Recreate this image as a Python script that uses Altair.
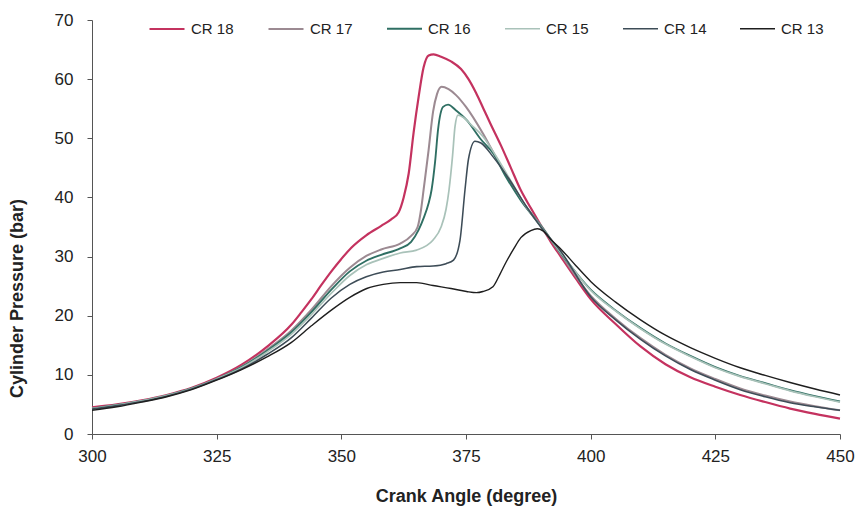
import altair as alt
import pandas as pd

series_names = ["CR 18", "CR 17", "CR 16", "CR 15", "CR 14", "CR 13"]
series_colors = ["#c4325f", "#9c8a92", "#2f6f63", "#a9c2b9", "#3d4c57", "#1e1e1e"]
series_widths = [2.2, 1.4, 2.2, 1.3, 1.8, 2.2]

cr18_angle = [300, 305, 310, 315, 320, 325, 330, 335, 340, 342, 344, 346, 348, 350, 352, 355, 358, 360, 361.5, 362.5, 363.5, 364.5, 365.5, 366.5, 367.5, 368.5, 370, 372, 374, 375.5, 377, 378.5, 380, 382, 384, 386, 388, 390, 392, 394, 397, 400, 405, 410, 415, 420, 425, 430, 435, 440, 445, 450]
cr18_p = [4.5, 5.0, 5.7, 6.6, 7.8, 9.5, 11.7, 14.7, 18.5, 20.6, 22.8, 25.2, 27.5, 29.6, 31.5, 33.6, 35.2, 36.3, 37.5, 40.0, 44.0, 51.0, 57.0, 62.0, 64.0, 64.2, 63.8, 63.0, 61.7, 60.0, 57.7, 55.0, 52.3, 48.8, 45.0, 41.2, 38.2, 35.3, 32.5, 30.0, 26.3, 22.8, 18.6, 14.8, 11.8, 9.6, 8.0, 6.6, 5.4, 4.3, 3.4, 2.6]

cr17_angle = [300, 305, 310, 315, 320, 325, 330, 335, 340, 344, 348, 351.7, 355, 358, 361.8, 364, 365.3, 366, 366.5, 367.5, 368.4, 369.2, 370.1, 371.5, 373, 375, 378.4, 381, 384, 387, 390, 394, 400, 405, 410, 415, 420, 425, 430, 435, 440, 445, 450]
cr17_p = [4.3, 4.9, 5.6, 6.5, 7.7, 9.3, 11.4, 14.2, 17.5, 21.0, 25.0, 28.1, 30.1, 31.2, 32.2, 33.5, 35.0, 38.0, 41.3, 48.0, 54.5, 57.5, 58.7, 58.3, 57.3, 55.3, 50.8, 46.8, 42.5, 38.5, 35.3, 30.4, 23.4, 19.5, 16.2, 13.4, 11.1, 9.3, 7.7, 6.5, 5.5, 4.7, 4.0]

cr16_angle = [300, 305, 310, 315, 320, 325, 330, 335, 340, 344, 348, 351.7, 355, 358, 361.8, 364, 365.5, 366.5, 367.5, 368.1, 368.8, 369.4, 370.4, 371.4, 373, 375.1, 378, 380.4, 383, 386, 390, 394, 400, 405, 410, 415, 420, 425, 430, 435, 440, 445, 450]
cr16_p = [4.3, 4.9, 5.6, 6.5, 7.7, 9.3, 11.3, 14.0, 17.2, 20.6, 24.4, 27.5, 29.3, 30.3, 31.4, 32.5, 34.5, 36.5, 39.0, 41.3, 46.0, 51.5, 55.3, 55.7, 54.7, 53.1, 49.8, 47.5, 43.5, 39.5, 35.2, 30.6, 24.4, 20.9, 17.9, 15.3, 13.2, 11.3, 9.8, 8.6, 7.4, 6.4, 5.5]

cr15_angle = [300, 305, 310, 315, 320, 325, 330, 335, 340, 344, 348, 351.7, 355, 358.4, 361.8, 365.1, 368.4, 370, 371, 371.6, 372.3, 372.8, 373.4, 374.5, 376, 378.4, 381, 384, 387, 390, 394, 400, 405, 410, 415, 420, 425, 430, 435, 440, 445, 450]
cr15_p = [4.3, 4.9, 5.6, 6.5, 7.7, 9.3, 11.2, 13.8, 16.9, 20.2, 23.8, 26.8, 28.6, 29.7, 30.6, 31.1, 32.8, 35.0, 38.0, 41.3, 47.0, 52.0, 53.9, 53.5, 52.3, 50.3, 47.0, 42.8, 38.5, 35.1, 30.7, 24.3, 20.8, 17.8, 15.2, 13.1, 11.2, 9.7, 8.5, 7.3, 6.3, 5.4]

cr14_angle = [300, 305, 310, 315, 320, 325, 330, 335, 340, 344, 348, 351.7, 355, 358.4, 361.8, 365.1, 368.4, 371, 372.5, 373.8, 374.8, 375.5, 376.8, 378, 380.4, 383.8, 387, 390, 394, 400, 405, 410, 415, 420, 425, 430, 435, 440, 445, 450]
cr14_p = [4.2, 4.8, 5.5, 6.4, 7.6, 9.2, 11.0, 13.4, 16.3, 19.6, 23.0, 25.3, 26.6, 27.4, 27.8, 28.3, 28.4, 28.8, 29.4, 32.8, 41.3, 46.5, 49.5, 49.2, 46.9, 42.9, 38.6, 35.0, 30.9, 23.2, 19.3, 16.0, 13.2, 10.9, 9.1, 7.5, 6.3, 5.3, 4.6, 4.0]

cr13_angle = [300, 305, 310, 315, 320, 325, 330, 335, 340, 344, 348.4, 351.7, 355.1, 358.4, 361.8, 365.1, 368.4, 372, 375.1, 377.1, 378.4, 380.4, 381.8, 383, 384.5, 386, 388, 389.3, 390.5, 392, 394, 397, 400, 405, 410, 415, 420, 425, 430, 435, 440, 445, 450]
cr13_p = [4.0, 4.6, 5.4, 6.3, 7.5, 9.1, 10.9, 13.0, 15.5, 18.3, 21.2, 23.1, 24.6, 25.3, 25.6, 25.6, 25.1, 24.6, 24.1, 23.9, 24.1, 24.9, 27.0, 29.0, 31.2, 33.2, 34.4, 34.7, 34.3, 32.9, 31.3, 28.5, 25.8, 22.3, 19.3, 16.7, 14.6, 12.8, 11.2, 9.9, 8.7, 7.6, 6.6]

all_angles = [cr18_angle, cr17_angle, cr16_angle, cr15_angle, cr14_angle, cr13_angle]
all_p = [cr18_p, cr17_p, cr16_p, cr15_p, cr14_p, cr13_p]

rows = []
for name, angs, ps in zip(series_names, all_angles, all_p):
    for a, p in zip(angs, ps):
        rows.append({"series": name, "angle": a, "pressure": p})
df = pd.DataFrame(rows)

FONT = "Liberation Sans"

chart = alt.Chart(df).mark_line(interpolate="monotone").encode(
    x=alt.X("angle:Q",
            scale=alt.Scale(domain=[300, 450], nice=False, zero=False),
            axis=alt.Axis(values=[300, 325, 350, 375, 400, 425, 450],
                          title="Crank Angle (degree)", grid=False, labelFlush=False,
                          tickSize=5, labelPadding=9, titlePadding=23,
                          labelFontSize=17, titleFontSize=18)),
    y=alt.Y("pressure:Q",
            scale=alt.Scale(domain=[0, 70], nice=False),
            axis=alt.Axis(values=[0, 10, 20, 30, 40, 50, 60, 70],
                          title="Cylinder Pressure (bar)", grid=False, labelFlush=False,
                          tickSize=5, labelPadding=14,
                          labelFontSize=17, titleFontSize=18,
                          titleX=-66, titleY=278)),
    color=alt.Color("series:N",
                    scale=alt.Scale(domain=series_names, range=series_colors),
                    sort=series_names,
                    legend=alt.Legend(title=None, orient="none", direction="horizontal",
                                      legendX=56, legendY=-10,
                                      symbolType="stroke", symbolSize=1225,
                                      symbolStrokeWidth=1.8, labelFontSize=15,
                                      labelOffset=5, columnPadding=30,
                                      labelFont=FONT, labelColor="#222222")),
    strokeWidth=alt.StrokeWidth("series:O",
                                scale=alt.Scale(domain=series_names, range=series_widths),
                                legend=None),
    detail="series:N",
).properties(
    width=748, height=414,
    autosize=alt.AutoSizeParams(type="none"),
    padding={"left": 92, "top": 20, "right": 16, "bottom": 73},
).configure_axis(
    labelFont=FONT, titleFont=FONT, titleFontWeight="bold",
    labelColor="#222222", titleColor="#222222",
    domainColor="#555555", tickColor="#555555",
).configure_view(stroke=None)

chart.save("out.html", embed_options={"renderer": "svg", "actions": False})
